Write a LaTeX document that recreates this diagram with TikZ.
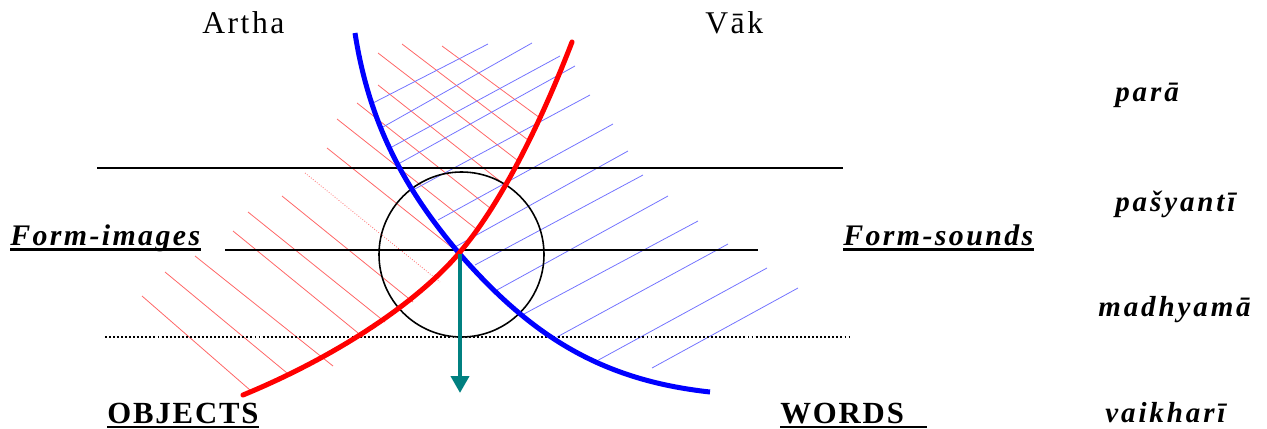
\documentclass[tikz,border=0pt]{standalone}
\usepackage{fontspec}
\setmainfont{Liberation Serif}
\newfontfamily\topfont[LetterSpace=8]{Liberation Serif}
\newfontfamily\formfont[LetterSpace=8]{Liberation Serif}
\newfontfamily\endfont[LetterSpace=6]{Liberation Serif}
\newfontfamily\levelfont[LetterSpace=10]{Liberation Serif}
\usetikzlibrary{arrows.meta}
\definecolor{artha}    {HTML}{FF0000}
\definecolor{vak}      {HTML}{0000FF}
\definecolor{flow}     {HTML}{008080}
\tikzset{
  level/.style    ={draw=black, line width=1.1pt},
  leveldot/.style ={draw=black, line width=1.1pt, dash pattern=on 1.1pt off 1.2pt},
  rcurve/.style   ={draw=artha, line width=0.1cm, line cap=round},
  bcurve/.style   ={draw=vak, line width=0.1cm},
  rhatch/.style   ={draw=artha!60, line width=0.45pt},
  bhatch/.style   ={draw=vak!55, line width=0.45pt},
  lbl/.style      ={anchor=base west, inner sep=0pt},
  toplbl/.style   ={lbl, font=\topfont\fontsize{18pt}{20pt}\selectfont},
  formlbl/.style  ={lbl, font=\formfont\fontsize{17pt}{19pt}\selectfont\bfseries\itshape},
  endlbl/.style   ={lbl, font=\endfont\fontsize{17.5pt}{19pt}\selectfont\bfseries},
  levellbl/.style ={lbl, font=\levelfont\fontsize{16.5pt}{18pt}\selectfont\bfseries\itshape},
  uline/.style    ={draw=black, line width=1.4pt},
  sink/.style     ={-{Triangle[length=0.34cm,width=0.36cm]}, line width=2.3pt, draw=flow},
}
\begin{document}
\begin{tikzpicture}[x=0.02cm,y=-0.02cm]
  \useasboundingbox (0,0) rectangle (1267,429);
  % hatching of the two regions
  \foreach \a/\b in {{(442,46)}/{(540,118)}, {(402,44)}/{(528,140)},
      {(378,53)}/{(517,160)}, {(378,85)}/{(505,185)}, {(357,103)}/{(490,208)},
      {(337,119)}/{(475,228)}, {(327,148)}/{(455,250)}, {(282,196)}/{(413,302)},
      {(248,212)}/{(385,322)}, {(233,231)}/{(363,337)}, {(195,256)}/{(333,366)},
      {(165,272)}/{(287,373)}, {(142,296)}/{(250,390)}}
    \draw[rhatch] \a -- \b;
  \draw[rhatch, densely dotted] (305,173) -- (440,282);
  \foreach \a/\b in {{(373,103)}/{(488,44)}, {(383,127)}/{(532,43)},
      {(390,148)}/{(560,56)}, {(400,163)}/{(575,66)}, {(413,190)}/{(590,95)},
      {(438,220)}/{(613,124)}, {(455,247)}/{(628,151)}, {(475,265)}/{(643,175)},
      {(497,290)}/{(668,196)}, {(524,314)}/{(698,221)}, {(557,337)}/{(728,244)},
      {(593,363)}/{(767,268)}, {(652,368)}/{(798,288)}}
    \draw[bhatch] \a -- \b;
  % levels
  \draw[level] (97,168) -- (843,168);
  \draw[level] (225,250) -- (758,250);
  \draw[leveldot] (105,337) -- (852,337);
  \draw[black, line width=0.9pt] (461.5,254.5) circle[radius=82.5];
  % the two curves
  \draw[bcurve] (355,33) .. controls (370,130) and (410,195) .. (458,252)
    .. controls (530,335) and (600,380) .. (710,392);
  \draw[rcurve] (572,42) .. controls (540,125) and (500,205) .. (460,252)
    .. controls (420,300) and (340,355) .. (243,395);
  \coordinate (cross) at (460,254);
  \coordinate (drop) at (460,393);
  \draw[sink] (cross) -- (drop);
  % labels
  \node[toplbl] (artha) at (202,34) {Artha};
  \node[toplbl] (vak) at (705,34) {Vāk};
  \node[formlbl] (fimg) at (10,245) {Form-images};
  \node[formlbl] (fsnd) at (843,245) {Form-sounds};
  \node[endlbl] (obj) at (107,423) {OBJECTS};
  \node[endlbl] (words) at (780,423) {WORDS};
  \draw[uline] ([yshift=-0.09cm]fimg.base west) -- ([yshift=-0.09cm]fimg.base east);
  \draw[uline] ([yshift=-0.09cm]fsnd.base west) -- ([yshift=-0.09cm]fsnd.base east);
  \draw[uline] ([yshift=-0.08cm]obj.base west) -- ([yshift=-0.08cm]obj.base east);
  \draw[uline] ([yshift=-0.08cm]words.base west) -- ([yshift=-0.08cm,xshift=0.46cm]words.base east);
  \node[levellbl] (para) at (1115,102) {parā};
  \node[levellbl] (pasy) at (1115,211) {pašyantī};
  \node[levellbl] (madh) at (1098,316) {madhyamā};
  \node[levellbl] (vaik) at (1105,422) {vaikharī};
\end{tikzpicture}
\end{document}
